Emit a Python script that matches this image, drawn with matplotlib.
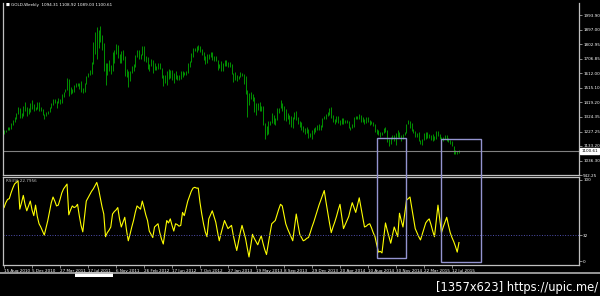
import numpy as np
import matplotlib
matplotlib.use('Agg')
import matplotlib.pyplot as plt
from matplotlib.patches import Rectangle
from matplotlib.lines import Line2D

# weekly GOLD bars, 15 Aug 2010 .. Aug 2015
highs = [
    # 2010
    1237, 1240, 1255, 1260, 1285, 1301, 1322, 1349, 1387, 1380, 1349, 1398, 1424, 1390, 1384, 1414, 1432, 1406, 1392, 1421,
    # 2011
    1424, 1390, 1375, 1345, 1357, 1366, 1388, 1416, 1440, 1445, 1430, 1448, 1440, 1476, 1490, 1510, 1577, 1576, 1520, 1510,
    1535, 1550, 1547, 1549, 1560, 1515, 1545, 1595, 1610, 1632, 1682, 1815, 1881, 1912, 1895, 1921, 1860, 1810, 1680, 1680,
    1695, 1668, 1750, 1766, 1802, 1795, 1740, 1760, 1764, 1722, 1640, 1627,
    # 2012
    1626, 1660, 1672, 1730, 1764, 1761, 1738, 1790, 1792, 1725, 1715, 1670, 1705, 1697, 1680, 1660, 1680, 1676, 1645, 1600,
    1600, 1627, 1640, 1630, 1630, 1610, 1625, 1600, 1597, 1628, 1623, 1622, 1627, 1680, 1693, 1744, 1777, 1780, 1787, 1796,
    1788, 1770, 1750, 1723, 1738, 1738, 1754, 1752, 1725, 1725, 1698, 1670, 1694,
    # 2013
    1680, 1695, 1698, 1684, 1683, 1672, 1612, 1619, 1598, 1596, 1616, 1615, 1605, 1590, 1498, 1483, 1487, 1477, 1453, 1415,
    1418, 1424, 1398, 1393, 1287, 1267, 1298, 1299, 1349, 1339, 1320, 1380, 1381, 1434, 1418, 1393, 1376, 1348, 1339, 1330,
    1324, 1355, 1361, 1322, 1294, 1290, 1263, 1254, 1261, 1246, 1218, 1238,
    # 2014
    1250, 1256, 1270, 1280, 1273, 1320, 1332, 1345, 1355, 1385, 1392, 1335, 1309, 1331, 1331, 1304, 1315, 1316, 1305, 1306,
    1296, 1258, 1279, 1325, 1328, 1333, 1346, 1339, 1321, 1312, 1322, 1322, 1301, 1296, 1293, 1275, 1243, 1239, 1225, 1227,
    1250, 1255, 1235, 1176, 1191, 1202, 1202, 1221, 1238, 1225, 1202, 1212,
    # 2015
    1224, 1277, 1307, 1296, 1284, 1245, 1234, 1220, 1223, 1173, 1180, 1219, 1223, 1224, 1209, 1205, 1215, 1196, 1232, 1232,
    1211, 1194, 1192, 1205, 1204, 1187, 1172, 1167, 1135, 1105, 1099, 1109,
]
lows = [
    # 2010
    1215, 1222, 1240, 1241, 1245, 1270, 1288, 1310, 1340, 1315, 1318, 1327, 1365, 1330, 1346, 1357, 1379, 1360, 1368, 1375,
    # 2011
    1363, 1360, 1338, 1308, 1330, 1344, 1354, 1380, 1400, 1417, 1383, 1415, 1412, 1418, 1454, 1485, 1500, 1462, 1475, 1480,
    1490, 1520, 1525, 1510, 1490, 1478, 1485, 1540, 1585, 1600, 1607, 1675, 1740, 1702, 1774, 1815, 1765, 1627, 1532, 1600,
    1625, 1605, 1625, 1680, 1735, 1713, 1677, 1680, 1700, 1594, 1587, 1523,
    # 2012
    1563, 1615, 1627, 1652, 1715, 1705, 1707, 1730, 1690, 1685, 1640, 1627, 1658, 1612, 1633, 1631, 1636, 1636, 1577, 1527,
    1550, 1535, 1570, 1580, 1565, 1550, 1575, 1565, 1568, 1571, 1585, 1597, 1598, 1614, 1650, 1682, 1718, 1756, 1752, 1764,
    1753, 1733, 1701, 1674, 1677, 1705, 1718, 1695, 1692, 1691, 1635, 1644, 1625,
    # 2013
    1626, 1660, 1656, 1650, 1655, 1604, 1555, 1565, 1562, 1575, 1589, 1591, 1539, 1476, 1321, 1400, 1445, 1427, 1359, 1338,
    1370, 1366, 1362, 1268, 1180, 1207, 1211, 1270, 1285, 1280, 1270, 1307, 1350, 1380, 1364, 1305, 1296, 1309, 1277, 1260,
    1251, 1310, 1301, 1279, 1261, 1240, 1227, 1211, 1220, 1185, 1191, 1182,
    # 2014
    1211, 1226, 1235, 1238, 1239, 1257, 1311, 1312, 1330, 1335, 1319, 1290, 1277, 1290, 1285, 1268, 1277, 1277, 1285, 1282,
    1250, 1240, 1251, 1257, 1309, 1310, 1310, 1292, 1290, 1280, 1285, 1292, 1273, 1278, 1263, 1228, 1214, 1207, 1190, 1205,
    1218, 1225, 1160, 1131, 1143, 1176, 1168, 1142, 1192, 1184, 1168, 1176,
    # 2015
    1202, 1219, 1276, 1251, 1232, 1216, 1191, 1193, 1163, 1147, 1141, 1170, 1178, 1186, 1183, 1174, 1169, 1170, 1182, 1198,
    1180, 1162, 1169, 1176, 1169, 1162, 1147, 1131, 1077, 1078, 1080, 1089,
]
rsi = [
    66, 72, 76, 77, 84, 90, 95, 97, 99, 64, 72, 81, 70, 62, 68, 74, 63, 56, 69, 55,
    46, 42, 37, 32, 41, 50, 61, 72, 79, 74, 68, 69, 76, 84, 89, 92, 95, 57, 63, 68,
    66, 67, 70, 56, 44, 36, 55, 74, 78, 82, 86, 89, 93, 97, 89, 78, 67, 58, 30, 35,
    38, 42, 58, 61, 63, 66, 52, 42, 48, 54, 38, 25, 33, 42, 50, 60, 68, 66, 64, 74,
    66, 57, 50, 37, 33, 29, 42, 44, 46, 35, 27, 21, 36, 50, 47, 52, 44, 37, 46, 45,
    43, 44, 60, 56, 65, 74, 80, 86, 90, 91, 90, 90, 72, 58, 46, 36, 30, 52, 57, 62,
    55, 48, 36, 25, 34, 42, 50, 45, 40, 42, 44, 32, 22, 13, 24, 35, 44, 36, 28, 16,
    5, 19, 33, 28, 24, 20, 26, 31, 22, 14, 8, 21, 34, 46, 48, 50, 57, 64, 70, 68,
    57, 46, 40, 35, 30, 25, 42, 58, 45, 33, 29, 25, 26, 28, 29, 35, 42, 48, 55, 62,
    69, 75, 81, 87, 73, 60, 47, 35, 42, 48, 55, 63, 70, 55, 40, 45, 50, 55, 64, 72,
    66, 60, 69, 78, 66, 54, 42, 43, 45, 46, 41, 35, 30, 20, 11, 12, 10, 28, 47, 38,
    30, 22, 32, 42, 36, 30, 59, 50, 42, 58, 75, 77, 79, 66, 53, 40, 35, 30, 26, 33,
    40, 47, 50, 52, 45, 37, 30, 50, 69, 52, 35, 42, 48, 54, 44, 35, 29, 24, 18, 11,
    22.8,
]

date_labels = ['15 Aug 2010', '5 Dec 2010', '27 Mar 2011', '17 Jul 2011', '6 Nov 2011',
               '26 Feb 2012', '17 Jun 2012', '7 Oct 2012', '27 Jan 2013', '19 May 2013',
               '8 Sep 2013', '29 Dec 2013', '20 Apr 2014', '10 Aug 2014', '30 Nov 2014',
               '22 Mar 2015', '12 Jul 2015']
price_ticks = [1993.90, 1897.00, 1802.95, 1706.85, 1612.00, 1515.10,
               1419.20, 1324.35, 1227.25, 1133.20, 1036.30, 942.25]
rsi_ticks = [100, 32, 0]
last_price = 1100.61
header = 'GOLD,Weekly  1094.31 1108.92 1089.03 1100.61'
rsi_title = 'RSI(9) 22.7956'

W, H = 600, 296
GRID = '#c0c0c0'


def box(x0, y0, x1, y1):
    # pixel box (top-left origin) -> figure fraction rect
    return [x0 / W, 1 - y1 / H, (x1 - x0) / W, (y1 - y0) / H]


fig = plt.figure(figsize=(W / 100, H / 100), dpi=100, facecolor='black')
ax = fig.add_axes(box(3, 3, 579, 175), facecolor='black')
ax2 = fig.add_axes(box(3, 177, 579, 265), facecolor='black', sharex=ax)

x = np.arange(len(highs))
ax.vlines(x, lows, highs, color='#00a800', lw=0.6)
ax.axhline(last_price, color='#808080', lw=0.8)
ax.set_xlim(-0.6, 328.6)
ax.set_ylim(942.25, 2072.8)

ax2.plot(x, rsi, color='#ffff00', lw=0.8)
ax2.axhline(32, color='#5050b0', ls=':', lw=0.7)
ax2.set_ylim(-4.9, 103.7)

for a in (ax, ax2):
    for s in a.spines.values():
        s.set_color(GRID)
        s.set_linewidth(0.9)
    a.yaxis.tick_right()
    a.tick_params(axis='y', colors=GRID, labelcolor='white', labelsize=3, length=2, pad=1, width=0.5)
ax.spines['top'].set_visible(False)

ax.set_yticks(price_ticks)
ax.set_yticklabels(['%.2f' % v for v in price_ticks])
ax.tick_params(axis='x', bottom=False, labelbottom=False)
ax.text(1.004, last_price, '%.2f' % last_price, transform=ax.get_yaxis_transform(),
        fontsize=3, color='black', va='center', ha='left',
        bbox=dict(facecolor='white', edgecolor='white', pad=0.6))

ax2.set_yticks(rsi_ticks)
ax2.set_yticklabels([str(v) for v in rsi_ticks])
ax2.set_xticks(np.arange(0, 16 * len(date_labels), 16))
ax2.set_xticklabels(date_labels, ha='left')
ax2.tick_params(axis='x', colors=GRID, labelcolor='white', labelsize=3, length=2, pad=1, width=0.5)

fig.text(6 / W, 1 - 5 / H, '\u25a0', fontsize=3, color='white', va='center')
fig.text(11 / W, 1 - 5 / H, header, fontsize=3, color='white', va='center')
fig.text(6 / W, 1 - 181 / H, rsi_title, fontsize=3, color=GRID, va='center')

# marked zones
for (x0, y0, x1, y1) in [(377, 138, 406, 258), (441, 139, 481, 262)]:
    fig.add_artist(Rectangle((x0 / W, 1 - y1 / H), (x1 - x0) / W, (y1 - y0) / H,
                             transform=fig.transFigure, fill=False, ec='#9494d0', lw=1.0))

# window frame below the date axis
fig.add_artist(Line2D([0, 1], [1 - 272.5 / H] * 2, color='#b0b0b0', lw=1.2))
fig.add_artist(Rectangle((75 / W, 1 - 277 / H), 38 / W, 5 / H, transform=fig.transFigure,
                         fc='white', ec='none'))
fig.text(598 / W, 1 - 287 / H, '[1357x623] https://upic.me/', ha='right', va='center',
         fontsize=8.3, color='white')

fig.savefig('out.png', dpi=100, facecolor='black')
